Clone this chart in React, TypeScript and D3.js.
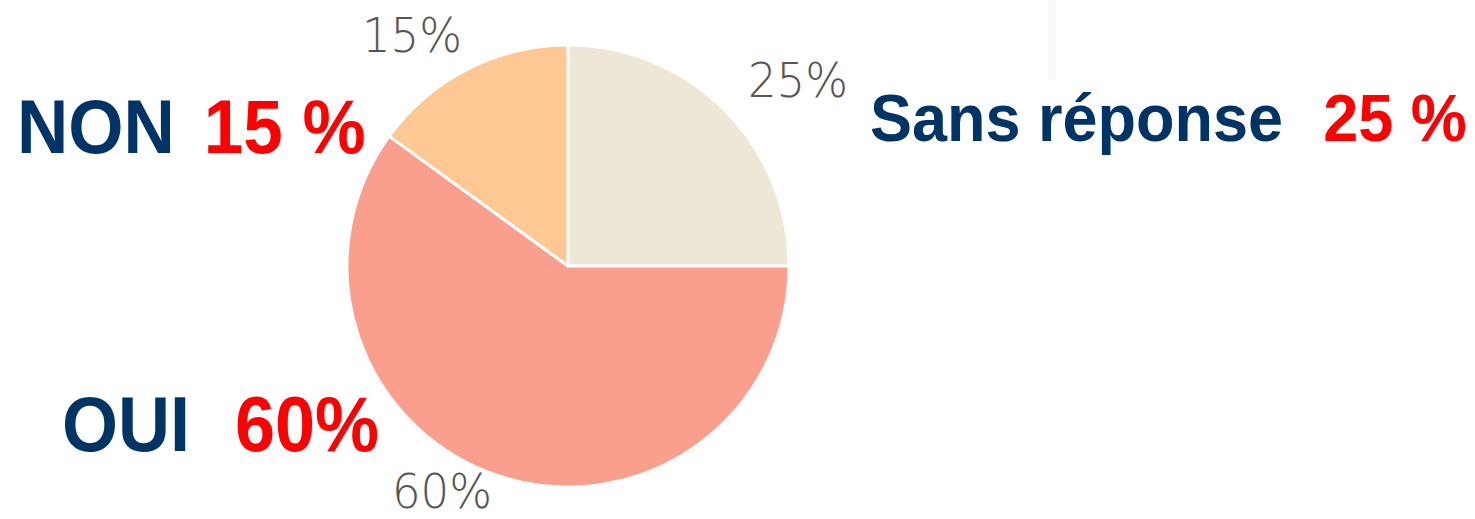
import React from "react";
import * as d3 from "d3";

const categories = ["Sans réponse", "OUI", "NON"];
const values = [25, 60, 15];
const sliceColors = ["#efe7d6", "#fa9f8d", "#fec894"];
const pctLabels = ["25%", "60%", "15%"];
const bigNames = ["Sans réponse", "OUI", "NON"];
const bigPcts = ["25 %", "60%", "15 %"];

const W = 1475;
const H = 519;
const cx = 568;
const cy = 266;
const R = 221;

// layout for small labels (text centre x, baseline y)
const smallPos: [number, number][] = [
  [798, 97],
  [442, 508],
  [412, 52],
];
// layout for big labels: x of name, baseline, font size, gap to pct
const bigPos: { x: number; y: number; fs: number; gap: number }[] = [
  { x: 870, y: 141, fs: 63, gap: 40 },
  { x: 62, y: 451, fs: 72, gap: 45 },
  { x: 17, y: 153, fs: 71, gap: 29 },
];

export default function App() {
  const pie = d3
    .pie<number>()
    .sort(null)
    .value((d) => d)
    .startAngle(0)
    .endAngle(2 * Math.PI);
  const arcs = pie(values);
  const arcGen = d3.arc<d3.PieArcDatum<number>>().innerRadius(0).outerRadius(R);

  const nameWidth = (s: string, fs: number) => {
    // approximate Arial bold widths
    const w: Record<string, number> = {
      S: 0.667, a: 0.556, n: 0.611, s: 0.556, " ": 0.278, r: 0.389, "é": 0.556,
      p: 0.611, o: 0.611, e: 0.556, O: 0.778, U: 0.722, I: 0.278, N: 0.722,
    };
    let t = 0;
    for (const c of s) t += w[c] ?? 0.6;
    return t * fs;
  };

  return (
    <svg
      width={W}
      height={H}
      style={{ position: "absolute", left: 0, top: 0, background: "#fff" }}
    >
      <rect x={1048} y={0} width={8} height={80} fill="#f9f9f9" />
      <g transform={`translate(${cx},${cy})`}>
        {arcs.map((a, i) => (
          <path
            key={categories[i]}
            d={arcGen(a) || ""}
            fill={sliceColors[i]}
            stroke="#ffffff"
            strokeWidth={3}
            strokeLinejoin="round"
          />
        ))}
      </g>
      {pctLabels.map((t, i) => (
        <text
          key={"s" + i}
          transform={`translate(${smallPos[i][0]},${smallPos[i][1]}) scale(1,1.07)`}
          textAnchor="middle"
          fontFamily="DejaVu Sans"
          fontWeight={300}
          fontSize={45}
          fill="#555555"
        >
          {t}
        </text>
      ))}
      {bigNames.map((n, i) => {
        const p = bigPos[i];
        const nw = nameWidth(n, p.fs);
        return (
          <g key={"b" + i} transform={`translate(${p.x},${p.y}) scale(1,1.07)`}>
            <text
              x={0}
              y={0}
              fontFamily="Liberation Sans, Arial, sans-serif"
              fontWeight="bold"
              fontSize={p.fs}
              fill="#003366"
            >
              {n}
            </text>
            <text
              x={nw + p.gap}
              y={0}
              fontFamily="Liberation Sans, Arial, sans-serif"
              fontWeight="bold"
              fontSize={p.fs}
              fill="#ff0000"
            >
              {bigPcts[i]}
            </text>
          </g>
        );
      })}
    </svg>
  );
}
